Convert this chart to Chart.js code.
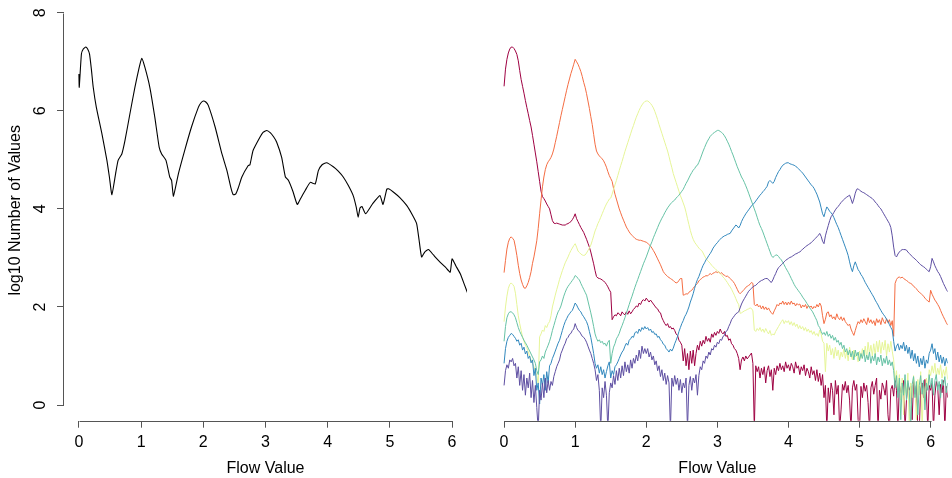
<!DOCTYPE html>
<html><head><meta charset="utf-8">
<script src="https://cdn.jsdelivr.net/npm/chart.js@4.4.0/dist/chart.umd.min.js"></script>
<style>
html,body{margin:0;padding:0;background:#fff;width:952px;height:478px;overflow:hidden}
#wl{position:absolute;left:0;top:0;width:480px;height:478px}
#wr{position:absolute;left:487px;top:0;width:465px;height:478px}
</style></head><body>
<div id="wl"><canvas id="cl"></canvas></div>
<div id="wr"><canvas id="cr"></canvas></div>
<script>
// ---- tick labels / titles ----
const xTicks = [0, 1, 2, 3, 4, 5, 6];
const yTicks = [0, 2, 4, 6, 8];
const xTitle = 'Flow Value';
const yTitle = 'log10 Number of Values';

// ---- left panel: all values together ----
const leftFlow = [0,0.005,0.04,0.07,0.11,0.14,0.17,0.20,0.23,0.28,
 0.37,0.45,0.49,0.53,0.59,0.63,0.69,0.74,0.82,0.90,
 0.97,1.01,1.06,1.14,1.22,1.29,1.33,1.40,1.46,1.49,
 1.52,1.60,1.70,1.81,1.92,1.96,2.00,2.04,2.08,2.19,
 2.30,2.38,2.44,2.48,2.52,2.56,2.62,2.72,2.75,2.80,
 2.91,2.96,3.02,3.08,3.13,3.18,3.26,3.32,3.37,3.44,
 3.51,3.56,3.64,3.72,3.80,3.85,3.91,3.98,4.09,4.17,
 4.25,4.33,4.41,4.46,4.49,4.52,4.55,4.61,4.72,4.84,
 4.89,4.95,4.98,5.06,5.16,5.27,5.36,5.43,5.47,5.51,
 5.56,5.62,5.70,5.81,5.90,5.97,6.00,6.06,6.13,6.20,6.25];
const leftLogCount = [6.75,6.48,7.16,7.26,7.30,7.26,7.16,6.85,6.48,6.07,
 5.53,4.99,4.65,4.29,4.72,4.99,5.12,5.39,5.94,6.48,
 6.89,7.07,6.89,6.48,5.87,5.26,5.12,4.99,4.65,4.58,
 4.26,4.72,5.19,5.67,6.07,6.16,6.20,6.18,6.11,5.67,
 5.12,4.78,4.45,4.29,4.30,4.42,4.65,4.88,4.90,5.19,
 5.46,5.56,5.60,5.55,5.47,5.36,5.05,4.65,4.58,4.36,
 4.09,4.20,4.38,4.54,4.51,4.78,4.90,4.94,4.86,4.77,
 4.65,4.48,4.27,4.03,3.83,4.02,4.05,3.90,4.10,4.27,
 4.09,4.40,4.41,4.34,4.23,4.07,3.88,3.70,3.36,3.02,
 3.12,3.17,3.06,2.91,2.80,2.71,2.98,2.84,2.68,2.45,2.28];

// ---- right panel: one series per group, read every 0.02 of flow value (0 .. 6.32) ----
const flowStep = 0.02;
const seriesNames = ['0', '1', '2', '3', '4', '5'];
const seriesColors = ['#9E0142', '#F46D43', '#E6F598', '#66C2A5', '#3288BD', '#5E4FA2'];

const series0 = [
 6.50,6.85,7.05,7.18,7.26,7.30,7.30,7.27,7.22,7.15,7.02,6.82,6.64,6.50,6.36,6.21,6.07,5.94,5.80,5.67,
 5.50,5.32,5.14,4.96,4.76,4.56,4.36,4.25,4.21,4.16,4.10,4.05,4.00,3.88,3.76,3.71,3.70,3.71,3.70,3.69,
 3.68,3.67,3.67,3.67,3.69,3.70,3.72,3.74,3.78,3.83,3.90,3.80,3.74,3.68,3.62,3.57,3.52,3.45,3.38,3.30,
 3.22,3.12,3.00,2.88,2.74,2.62,2.59,2.58,2.57,2.55,2.53,2.50,2.46,2.41,2.35,2.30,1.74,1.80,1.84,1.82,
 1.88,1.86,1.82,1.90,1.86,1.84,1.90,1.85,1.92,1.86,1.90,1.95,1.98,2.02,2.00,2.08,2.05,2.12,2.15,2.12,
 2.18,2.14,2.10,2.14,2.10,2.06,2.02,1.98,1.96,1.90,1.88,1.78,1.72,1.66,1.62,1.66,1.58,1.60,1.55,1.57,
 1.52,1.45,1.42,1.32,1.28,1.22,0.90,1.15,0.80,1.05,0.72,1.10,0.85,1.12,0.80,1.05,1.22,1.12,1.30,1.20,
 1.32,1.25,1.40,1.30,1.36,1.28,1.45,1.38,1.48,1.42,1.50,1.46,1.55,1.48,1.45,1.50,1.40,1.42,1.32,1.35,
 1.25,1.22,1.15,1.12,1.05,0.95,0.72,0.92,0.98,0.90,1.00,0.94,0.98,1.02,1.06,0.85,-0.5,0.80,0.68,0.78,
 0.55,0.75,0.62,0.78,0.45,0.70,0.80,0.58,0.72,0.30,0.75,0.62,0.80,0.70,0.85,0.72,0.80,0.68,0.88,0.75,
 0.82,0.70,0.85,0.78,0.65,0.88,0.75,0.80,0.62,0.78,0.70,0.82,0.60,0.75,0.68,0.55,0.78,0.62,0.70,0.50,
 0.72,0.48,0.65,0.40,0.62,0.15,0.40,-0.5,0.35,0.05,0.45,0.30,-0.2,0.50,0.22,0.40,-0.5,-0.1,0.42,0.30,
 0.48,0.25,0.40,0.10,-0.5,0.35,0.50,0.30,0.42,-0.3,-0.5,0.38,0.15,0.45,0.28,0.40,0.05,-0.5,0.35,0.48,
 0.22,0.40,0.55,-0.5,0.30,0.12,0.45,0.35,0.20,0.50,-0.2,-0.5,0.32,0.40,0.18,0.55,0.30,-0.5,0.42,0.25,
 0.35,0.50,-0.5,0.10,0.45,0.30,0.38,-0.3,0.48,0.22,0.40,-0.5,-0.5,0.35,0.45,0.15,0.52,0.28,-0.5,0.40,
 0.30,0.45,-0.5,0.20,0.48,0.35,-0.2,0.42,0.25,0.50,-0.5,0.38,0.15,0.45,0.30,-0.5,0.35];
const series1 = [
 2.70,2.95,3.18,3.32,3.40,3.43,3.40,3.36,3.22,3.05,2.85,2.68,2.55,2.46,2.39,2.38,2.43,2.50,2.60,2.72,
 2.89,3.02,3.18,3.35,3.60,3.90,4.18,4.45,4.65,4.80,4.90,4.96,5.00,5.05,5.12,5.22,5.35,5.48,5.62,5.76,
 5.90,6.03,6.16,6.29,6.42,6.54,6.65,6.76,6.85,6.95,7.05,7.00,6.95,6.88,6.80,6.70,6.58,6.48,6.35,6.20,
 6.05,5.88,5.72,5.52,5.32,5.18,5.12,5.08,5.05,5.02,4.98,4.92,4.85,4.76,4.68,4.62,4.56,4.42,4.30,4.20,
 4.10,4.00,3.92,3.84,3.77,3.70,3.63,3.58,3.53,3.49,3.46,3.43,3.40,3.38,3.37,3.36,3.36,3.35,3.34,3.33,
 3.32,3.30,3.27,3.24,3.20,3.15,3.10,3.04,2.98,2.92,2.86,2.79,2.72,2.68,2.65,2.62,2.60,2.58,2.56,2.54,
 2.51,2.49,2.50,2.54,2.58,2.58,2.24,2.25,2.27,2.26,2.30,2.32,2.34,2.38,2.42,2.45,2.48,2.53,2.56,2.58,
 2.61,2.62,2.64,2.63,2.66,2.68,2.66,2.69,2.70,2.72,2.70,2.72,2.68,2.70,2.66,2.65,2.62,2.63,2.61,2.58,
 2.55,2.52,2.48,2.42,2.36,2.30,2.27,2.30,2.33,2.36,2.40,2.42,2.44,2.46,2.50,2.48,2.05,2.02,2.06,2.00,
 2.03,1.96,2.02,1.95,2.00,1.94,1.98,1.92,1.88,1.85,1.92,1.98,2.05,2.02,2.08,2.06,2.12,2.05,2.10,2.04,
 2.10,2.05,2.12,2.06,2.08,2.02,2.07,2.04,2.06,1.98,2.04,2.00,2.05,1.97,2.03,1.99,2.02,1.96,2.01,1.98,
 2.05,2.00,2.08,2.02,1.82,1.66,1.75,1.88,1.90,1.80,1.84,1.76,1.80,1.74,1.86,1.78,1.74,1.80,1.72,1.78,
 1.70,1.66,1.62,1.65,1.55,1.48,1.42,1.52,1.62,1.70,1.66,1.74,1.68,1.76,1.70,1.64,1.78,1.68,1.74,1.66,
 1.72,1.62,1.76,1.68,1.74,1.64,1.78,1.70,1.66,1.76,1.68,1.74,1.62,1.72,1.40,2.48,2.56,2.60,2.61,2.59,
 2.61,2.58,2.56,2.54,2.52,2.49,2.48,2.46,2.42,2.40,2.37,2.33,2.30,2.28,2.25,2.22,2.18,2.15,2.12,2.10,
 2.34,2.26,2.20,2.14,2.10,2.05,2.00,1.93,1.86,1.80,1.74,1.68,1.63,1.60,1.57,1.55,1.52];
const series2 = [
 1.70,2.00,2.22,2.38,2.46,2.49,2.46,2.42,2.28,2.05,1.82,1.66,1.52,1.39,1.30,1.22,1.17,1.08,1.00,0.92,
 0.85,0.78,0.70,0.60,0.44,1.39,1.45,1.53,1.50,1.62,1.58,1.66,1.70,1.82,2.00,2.12,2.24,2.35,2.45,2.56,
 2.65,2.74,2.82,2.90,2.96,3.02,3.09,3.15,3.20,3.25,3.29,3.22,3.14,3.11,3.08,3.06,3.05,3.06,3.10,3.15,
 3.20,3.26,3.35,3.45,3.55,3.62,3.70,3.76,3.83,3.90,3.97,4.04,4.10,4.15,4.20,4.22,4.30,4.40,4.49,4.58,
 4.68,4.78,4.88,4.97,5.07,5.17,5.26,5.35,5.44,5.53,5.62,5.70,5.79,5.87,5.94,6.01,6.07,6.12,6.16,6.19,
 6.20,6.20,6.18,6.15,6.11,6.06,5.99,5.91,5.82,5.72,5.63,5.54,5.45,5.36,5.27,5.18,5.07,4.95,4.84,4.72,
 4.63,4.54,4.45,4.36,4.27,4.20,4.12,4.04,3.93,3.80,3.68,3.56,3.46,3.38,3.32,3.28,3.24,3.20,3.17,3.15,
 3.10,3.04,2.99,2.95,2.92,2.89,2.85,2.82,2.79,2.76,2.74,2.71,2.68,2.65,2.61,2.58,2.54,2.50,2.45,2.41,
 2.36,2.30,2.24,2.17,2.10,2.05,1.87,1.88,1.90,1.92,1.93,1.95,1.96,1.98,1.97,1.92,1.53,1.50,1.56,1.52,
 1.58,1.50,1.55,1.48,1.56,1.50,1.45,1.52,1.42,1.45,1.43,1.50,1.55,1.60,1.65,1.70,1.74,1.66,1.72,1.68,
 1.72,1.64,1.70,1.62,1.68,1.60,1.65,1.56,1.62,1.55,1.60,1.52,1.58,1.50,1.55,1.48,1.52,1.44,1.50,1.42,
 1.46,1.40,1.53,1.45,1.30,1.26,0.68,1.26,1.10,1.22,1.02,1.15,0.95,1.18,1.00,1.12,0.92,1.08,0.98,1.15,
 0.95,1.10,0.90,1.18,1.02,0.92,1.12,0.98,1.05,0.88,1.10,0.95,1.15,1.00,1.20,0.96,1.28,1.05,1.22,1.00,
 1.25,1.02,1.30,1.08,1.32,1.05,1.28,1.12,1.32,1.00,1.25,1.08,1.30,1.10,0.92,0.50,0.70,0.25,0.62,0.10,
 0.55,-0.2,0.48,0.20,0.65,-0.5,0.45,0.15,0.60,0.30,-0.3,0.52,0.20,0.68,-0.5,0.40,0.10,0.55,0.35,0.72,
 0.60,0.80,0.65,0.85,0.58,0.75,0.62,0.82,0.55,0.72,0.60,0.78,0.52,0.70,0.58,0.75,0.62];
const series3 = [
 1.30,1.60,1.78,1.86,1.90,1.90,1.88,1.84,1.78,1.68,1.58,1.50,1.44,1.38,1.32,1.27,1.22,1.16,1.10,1.04,
 0.98,0.92,0.85,0.70,0.62,0.88,0.92,1.00,0.95,1.08,1.15,1.22,1.30,1.40,1.52,1.62,1.72,1.82,1.90,1.95,
 2.02,2.12,2.22,2.30,2.37,2.42,2.46,2.50,2.54,2.58,2.64,2.62,2.58,2.55,2.48,2.42,2.36,2.30,2.24,2.12,
 2.00,1.88,1.75,1.60,1.45,1.36,1.30,1.33,1.27,1.30,1.24,1.26,1.20,1.28,1.32,0.85,1.05,1.18,1.25,1.35,
 1.40,1.46,1.55,1.62,1.70,1.78,1.87,1.96,2.05,2.14,2.22,2.31,2.40,2.48,2.56,2.64,2.72,2.80,2.88,2.95,
 3.02,3.10,3.18,3.26,3.33,3.41,3.48,3.55,3.62,3.69,3.75,3.81,3.86,3.92,3.97,4.02,4.06,4.10,4.13,4.16,
 4.18,4.22,4.25,4.28,4.32,4.36,4.40,4.46,4.52,4.57,4.63,4.69,4.74,4.79,4.82,4.87,4.89,4.95,5.02,5.10,
 5.18,5.25,5.32,5.38,5.43,5.48,5.51,5.54,5.56,5.58,5.60,5.60,5.58,5.56,5.53,5.49,5.44,5.38,5.32,5.25,
 5.17,5.10,5.02,4.94,4.86,4.79,4.72,4.65,4.60,4.54,4.47,4.40,4.32,4.24,4.16,4.08,4.00,3.92,3.83,3.74,
 3.66,3.60,3.53,3.45,3.37,3.29,3.21,3.13,3.05,3.01,3.03,3.06,3.06,3.03,2.99,2.96,2.91,2.86,2.80,2.75,
 2.70,2.64,2.58,2.52,2.46,2.41,2.37,2.33,2.29,2.25,2.20,2.16,2.12,2.07,2.03,1.98,1.94,1.90,1.84,1.78,
 1.72,1.62,1.58,1.50,1.44,1.48,1.42,1.50,1.40,1.45,1.36,1.42,1.32,1.38,1.28,1.32,1.22,1.28,1.15,1.22,
 1.08,1.15,1.02,1.12,0.98,1.10,0.92,1.12,1.00,1.08,0.90,1.05,0.95,1.12,0.88,1.02,0.92,1.08,0.85,1.00,
 0.90,1.05,0.82,0.98,0.88,1.02,0.80,0.95,0.85,1.00,0.82,0.92,0.80,0.88,0.70,0.35,0.60,0.15,0.55,-0.3,
 0.45,0.20,0.62,0.10,0.50,0.30,-0.5,0.42,0.58,0.15,0.48,-0.2,0.40,0.60,0.22,0.50,-0.1,0.45,0.30,0.62,
 0.35,0.55,0.20,0.50,0.62,0.30,0.48,0.15,0.52,0.40,0.58,0.25,0.45,0.35,0.52,0.30,0.42];
const series4 = [
 0.85,1.15,1.30,1.38,1.42,1.46,1.44,1.40,1.36,1.30,1.33,1.22,1.26,1.12,1.18,1.04,1.10,0.95,1.00,0.86,
 0.92,0.60,0.75,0.30,0.45,0.02,0.55,0.40,0.62,0.30,0.68,0.45,0.80,0.85,0.95,1.02,1.10,1.18,1.26,1.32,
 1.42,1.52,1.62,1.70,1.76,1.82,1.86,1.90,1.93,2.00,2.08,2.04,1.98,1.93,1.90,1.84,1.80,1.75,1.70,1.62,
 1.50,1.38,1.22,1.05,0.85,0.75,0.82,0.65,0.78,0.62,0.72,0.55,0.68,0.80,0.88,0.55,0.70,0.62,0.78,0.82,
 0.88,0.95,1.02,1.08,1.12,1.20,1.26,1.22,1.32,1.35,1.40,1.38,1.47,1.50,1.46,1.55,1.50,1.58,1.54,1.60,
 1.55,1.58,1.52,1.55,1.48,1.50,1.44,1.45,1.38,1.40,1.33,1.30,1.24,1.22,1.15,1.12,1.08,1.14,1.10,1.16,
 1.25,1.32,1.40,1.50,1.58,1.66,1.72,1.80,1.85,1.92,2.00,2.10,2.18,2.27,2.38,2.48,2.56,2.62,2.70,2.78,
 2.85,2.90,2.96,3.00,3.05,3.09,3.14,3.20,3.24,3.28,3.31,3.35,3.38,3.41,3.43,3.45,3.46,3.48,3.49,3.50,
 3.55,3.59,3.63,3.67,3.65,3.61,3.66,3.74,3.80,3.85,3.90,3.94,3.98,4.02,4.06,4.09,4.12,4.16,4.20,4.24,
 4.28,4.31,4.35,4.38,4.42,4.46,4.55,4.58,4.55,4.52,4.56,4.64,4.70,4.76,4.80,4.85,4.89,4.91,4.93,4.94,
 4.94,4.92,4.91,4.90,4.89,4.87,4.85,4.82,4.79,4.76,4.73,4.69,4.65,4.61,4.57,4.53,4.49,4.46,4.42,4.36,
 4.30,4.22,4.14,4.02,3.90,3.84,3.95,4.04,4.00,3.95,3.92,3.88,3.82,3.75,3.68,3.62,3.54,3.46,3.38,3.30,
 3.22,3.14,3.05,2.92,2.80,2.72,2.84,2.92,2.84,2.76,2.72,2.66,2.62,2.56,2.50,2.45,2.40,2.35,2.30,2.25,
 2.20,2.14,2.09,2.04,1.98,1.93,1.88,1.84,1.80,1.75,1.70,1.64,1.58,1.53,1.30,1.10,1.20,1.25,1.12,1.22,
 1.15,1.28,1.10,1.22,1.05,1.18,0.95,1.12,0.90,1.05,0.85,1.00,0.78,0.95,0.82,1.00,0.75,0.92,0.85,1.05,
 1.12,1.25,1.05,1.15,0.92,1.08,0.88,1.02,0.85,0.98,0.80,0.95,0.85,1.00,0.82,0.96,0.88];
const series5 = [
 0.40,0.70,0.82,0.75,0.92,0.88,0.95,0.80,0.85,0.55,0.78,0.40,0.70,0.30,0.62,0.20,0.55,0.35,0.65,0.15,
 0.50,0.05,0.40,-0.05,-0.5,0.30,0.10,0.45,0.15,0.55,0.25,0.50,0.30,0.48,0.40,0.58,0.68,0.78,0.85,0.92,
 1.05,1.12,1.20,1.26,1.35,1.38,1.44,1.46,1.52,1.55,1.66,1.58,1.52,1.50,1.45,1.40,1.38,1.34,1.28,1.20,
 1.12,1.05,0.95,0.85,0.72,0.50,0.62,0.30,-0.5,0.35,0.15,0.48,0.20,-0.5,0.25,0.45,0.35,0.60,0.42,0.70,
 0.50,0.75,0.55,0.80,0.60,0.88,0.68,0.82,0.65,0.92,0.75,0.95,0.85,1.02,0.90,1.12,0.95,1.20,1.05,1.15,
 1.05,1.15,0.98,1.08,0.92,1.00,0.82,0.90,0.70,0.80,0.58,0.72,0.50,0.65,0.42,0.60,0.45,-0.5,0.55,0.38,
 0.60,0.42,0.55,0.30,0.52,0.25,0.45,0.35,0.55,-0.5,0.40,0.58,0.30,0.55,0.45,0.62,0.20,0.60,0.78,0.72,
 0.90,0.85,1.00,0.95,1.08,1.02,1.15,1.12,1.22,1.18,1.28,1.25,1.34,1.32,1.40,1.42,1.50,1.52,1.60,1.66,
 1.74,1.78,1.82,1.86,1.88,1.90,1.98,2.06,2.12,2.17,2.22,2.27,2.32,2.35,2.38,2.41,2.43,2.44,2.47,2.50,
 2.52,2.54,2.55,2.57,2.58,2.58,2.56,2.52,2.50,2.55,2.62,2.68,2.75,2.80,2.83,2.86,2.89,2.92,2.95,2.97,
 2.99,3.01,3.02,3.04,3.06,3.08,3.09,3.11,3.12,3.15,3.18,3.20,3.23,3.25,3.27,3.29,3.31,3.34,3.37,3.40,
 3.43,3.46,3.50,3.44,3.34,3.29,3.45,3.56,3.66,3.76,3.84,3.88,3.93,3.98,4.02,4.05,4.09,4.13,4.16,4.19,
 4.22,4.24,4.26,4.28,4.20,4.11,4.20,4.32,4.40,4.41,4.38,4.36,4.34,4.33,4.31,4.29,4.27,4.25,4.23,4.21,
 4.18,4.14,4.11,4.07,4.03,4.00,3.95,3.90,3.85,3.80,3.75,3.70,3.62,3.45,3.22,3.05,3.02,3.08,3.12,3.15,
 3.17,3.17,3.17,3.16,3.12,3.09,3.06,3.03,3.00,2.98,2.95,2.92,2.89,2.86,2.84,2.82,2.80,2.77,2.74,2.72,
 2.82,2.99,2.92,2.84,2.78,2.72,2.68,2.62,2.55,2.48,2.42,2.36,2.31,2.26,2.22,2.18,2.15];
const rightSeries = [series0, series1, series2, series3, series4, series5];
const flowGrid = series0.map((_, i) => +(i * flowStep).toFixed(2));

// ---- styling ----
const FONT = '"Liberation Sans", Arial, Helvetica, sans-serif';
const AXIS_COLOR = '#555';
const Y_MIN = -0.32, Y_MAX = 8.26, X_MIN = -0.24, X_MAX = 6.24;

const axisPlugin = {
  id: 'rAxes',
  afterDraw(chart, args, opts) {
    const ctx = chart.ctx, ca = chart.chartArea, xs = chart.scales.x, ys = chart.scales.y;
    ctx.save();
    ctx.strokeStyle = AXIS_COLOR; ctx.lineWidth = 1;
    const yb = Math.round(ca.bottom) + 0.5;
    ctx.beginPath();
    ctx.moveTo(Math.round(xs.getPixelForValue(xTicks[0])) + 0.5, yb);
    ctx.lineTo(Math.round(xs.getPixelForValue(xTicks[xTicks.length - 1])) + 0.5, yb);
    ctx.stroke();
    if (opts.yAxis) {
      const xl = Math.round(ca.left) - 0.5;
      ctx.beginPath();
      ctx.moveTo(xl, Math.round(ys.getPixelForValue(yTicks[0])) + 0.5);
      ctx.lineTo(xl, Math.round(ys.getPixelForValue(yTicks[yTicks.length - 1])) + 0.5);
      ctx.stroke();
      ctx.fillStyle = '#000';
      ctx.font = '16px ' + FONT;
      ctx.textAlign = 'center'; ctx.textBaseline = 'middle';
      for (const v of yTicks) {
        const py = ys.getPixelForValue(v);
        ctx.save(); ctx.translate(41, py); ctx.rotate(-Math.PI / 2);
        ctx.fillText(String(v), 0, 0); ctx.restore();
      }
    }
    ctx.restore();
  }
};

function xScale() {
  return {
    type: 'linear', min: X_MIN, max: X_MAX,
    afterBuildTicks: s => { s.ticks = xTicks.map(v => ({ value: v })); },
    afterFit: s => { s.height = 57.3; },
    border: { display: false },
    grid: { display: true, drawOnChartArea: false, drawTicks: true, tickLength: 7, color: AXIS_COLOR, lineWidth: 1 },
    ticks: { autoSkip: false, maxRotation: 0, minRotation: 0, padding: 5, color: '#000', font: { family: FONT, size: 16 } },
    title: { display: true, text: xTitle, color: '#000', font: { family: FONT, size: 16 }, padding: { top: 0, bottom: 0 } }
  };
}

// left chart
new Chart(document.getElementById('cl'), {
  type: 'line',
  data: { datasets: [{
    data: leftFlow.map((x, i) => ({ x, y: leftLogCount[i] })),
    borderColor: '#000', borderWidth: 1.1, pointRadius: 0, tension: 0.15, fill: false
  }] },
  options: {
    responsive: true, maintainAspectRatio: false, animation: false, events: [],
    layout: { padding: { top: 0, right: 13, bottom: 0, left: 0 } },
    plugins: { legend: { display: false }, tooltip: { enabled: false }, rAxes: { yAxis: true } },
    scales: {
      x: xScale(),
      y: {
        type: 'linear', min: Y_MIN, max: Y_MAX,
        afterBuildTicks: s => { s.ticks = yTicks.map(v => ({ value: v })); },
        afterFit: s => { s.width = 64; },
        border: { display: false },
        grid: { display: true, drawOnChartArea: false, drawTicks: true, tickLength: 7, color: AXIS_COLOR, lineWidth: 1 },
        ticks: { display: false },
        title: { display: true, text: yTitle, color: '#000', font: { family: FONT, size: 16 }, padding: { top: 5.5, bottom: 0 } }
      }
    }
  },
  plugins: [axisPlugin]
});

// right chart
new Chart(document.getElementById('cr'), {
  type: 'line',
  data: { datasets: rightSeries.map((s, k) => ({
    label: seriesNames[k],
    data: flowGrid.map((x, i) => ({ x, y: s[i] })),
    borderColor: seriesColors[k], borderWidth: 1, pointRadius: 0, tension: 0, fill: false,
    order: rightSeries.length - k
  })) },
  options: {
    responsive: true, maintainAspectRatio: false, animation: false, events: [],
    layout: { padding: { top: 0, right: 4.3, bottom: 0, left: 0 } },
    plugins: { legend: { display: false }, tooltip: { enabled: false }, rAxes: { yAxis: false } },
    scales: {
      x: xScale(),
      y: { type: 'linear', min: Y_MIN, max: Y_MAX, display: false }
    }
  },
  plugins: [axisPlugin]
});
</script>
</body></html>
